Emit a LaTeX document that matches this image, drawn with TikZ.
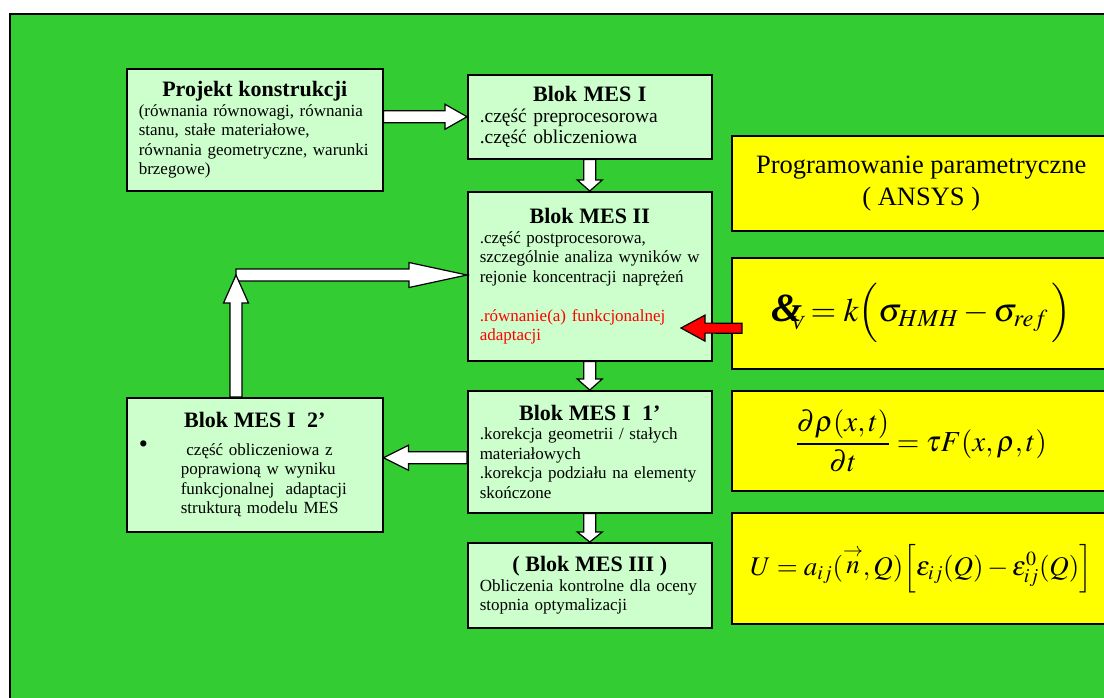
\documentclass[tikz,border=0pt]{standalone}
\usepackage{mathptmx}
\usepackage[no-math]{fontspec}
\setmainfont{Liberation Serif}
\usetikzlibrary{calc}
\definecolor{bggreen}{RGB}{51,204,51}
\definecolor{boxgreen}{RGB}{204,255,204}
\definecolor{boxyellow}{RGB}{255,255,0}
\definecolor{adaptred}{RGB}{255,0,0}
\newcommand{\shaftw}{6}
\newcommand{\headw}{12.5}
% block arrow: [style]{head length}{from}{to}
\newcommand{\blkarrow}[4][]{%
  \draw[blockarrow,#1] let \p1=#3, \p2=#4,
    \n1={atan2(\y2-\y1,\x2-\x1)}, \n2={veclen(\x2-\x1,\y2-\y1)} in
    {[shift={(\p1)},rotate=\n1]
     (0,-\shaftw) -- ({\n2-#2},-\shaftw) -- ({\n2-#2},-\headw) -- (\n2,0)
     -- ({\n2-#2},\headw) -- ({\n2-#2},\shaftw) -- (0,\shaftw) -- cycle};}
\newcommand{\blktitle}[1]{\makebox[\hsize]{\fontsize{22}{24}\selectfont\bfseries #1}}
\tikzset{
  mesbox/.style={draw, line width=1.5pt, fill=boxgreen, anchor=north west, align=left,
    inner xsep=12pt, inner ysep=0pt, font=\fontsize{17}{19.5}\selectfont},
  formbox/.style={draw, line width=1.5pt, fill=boxyellow, anchor=north west,
    minimum width=379pt, inner sep=0pt},
  blockarrow/.style={draw, fill=white, line width=1.2pt, line join=miter},
  redarrow/.style={fill=adaptred, /utils/exec={\renewcommand{\shaftw}{5}\renewcommand{\headw}{13}}}
}
\begin{document}
\begin{tikzpicture}[x=1pt,y=-1pt]
	\useasboundingbox (0,0) rectangle (1104,697);
	\clip (0,0) rectangle (1104,697);
	\draw[line width=1.5pt, fill=bggreen] (10,14) rectangle (1115,710);

	% flow blocks
	\node[mesbox, minimum width=256pt, minimum height=122pt, text width=232pt] (proj) at (126,68)
		{\blktitle{Projekt konstrukcji}\\ (równania równowagi, równania\\ stanu, stałe materiałowe,\\
		 równania geometryczne, warunki\\ brzegowe)};
	\node[mesbox, font=\fontsize{19.5}{21}\selectfont, minimum width=244pt, minimum height=84pt, text width=220pt] (mesI) at (467,74)
		{\blktitle{Blok MES I}\\ .część preprocesorowa\\ .część obliczeniowa};
	\node[mesbox, minimum width=244pt, minimum height=169pt, text width=220pt] (mesII) at (467,191)
		{\blktitle{Blok MES II}\\ .część postprocesorowa,\\ szczególnie analiza wyników w\\
		 rejonie koncentracji naprężeń\\[19.5pt] \textcolor{adaptred}{.równanie(a) funkcjonalnej}\\
		 \textcolor{adaptred}{adaptacji}};
	\node[mesbox, minimum width=244pt, minimum height=122pt, text width=220pt] (mesIa) at (467,390)
		{\blktitle{Blok MES I\ \ 1'}\\ .korekcja geometrii / stałych\\ materiałowych\\
		 .korekcja podziału na elementy\\ skończone};
	\node[mesbox, minimum width=244pt, minimum height=85pt, text width=220pt] (mesIII) at (467,542)
		{\blktitle{( Blok MES III )}\\ Obliczenia kontrolne dla oceny\\ stopnia optymalizacji};
	\node[mesbox, minimum width=256pt, minimum height=134pt, text width=232pt] (mesIb) at (126,397)
		{\blktitle{Blok MES I\ \ 2'}\\[8pt]
		 \makebox[42pt][l]{\raisebox{3pt}{\fontsize{26}{26}\selectfont\textbullet}}\parbox[t]{188pt}{\ część obliczeniowa z\\ poprawioną w wyniku\\
		 funkcjonalnej\ \ adaptacji\\ strukturą modelu MES}};

	% yellow column
	\node[formbox, minimum height=95pt, align=center, font=\fontsize{26.5}{32}\selectfont] (ansys) at (731,135)
		{Programowanie parametryczne\\ ( ANSYS )};
	\node[formbox, minimum height=111pt, font=\fontsize{33}{38}\selectfont] (eqV) at (731,257)
		{\rlap{\fontsize{40}{42}\selectfont\bfseries\itshape\&}\kern20pt\raisebox{-8pt}{\fontsize{20}{22}\selectfont\itshape V}%
		 $\;= k\Bigl(\sigma_{HMH} - \sigma_{ref}\,\Bigr)$};
	\node[formbox, minimum height=100pt, font=\fontsize{29}{34}\selectfont] (eqRho) at (731,390)
		{$\displaystyle\frac{\partial\rho(x,t)}{\partial t} = \tau F(x,\rho,t)$};
	\node[formbox, minimum height=111pt, font=\fontsize{27}{32}\selectfont] (eqU) at (731,512)
		{$U = a_{ij}(\stackrel{\rightarrow}{n},Q)\Bigl[\varepsilon_{ij}(Q) - \varepsilon^{0}_{ij}(Q)\Bigr]$};

	% connectors
	\coordinate (turn) at (236,275);
	\coordinate (adaptTip) at (681,328);
	\blkarrow{22}{(proj.east |- mesI.west)}{(mesI.west)}
	\blkarrow{11}{(mesI.south)}{(mesII.north)}
	\blkarrow{11}{(mesII.south)}{(mesIa.north)}
	\blkarrow{10}{(mesIa.south)}{(mesIII.north)}
	\blkarrow{25}{($(mesIa.west)+(0,6)$)}{($(mesIb.east |- mesIa.west)+(0,6)$)}
	\blkarrow{58}{(turn)}{(turn -| mesII.west)}
	\blkarrow{28}{(turn |- mesIb.north)}{(turn)}
	\blkarrow[redarrow]{24}{($(eqV.west)+(11,15)$)}{(adaptTip)}
\end{tikzpicture}
\end{document}
